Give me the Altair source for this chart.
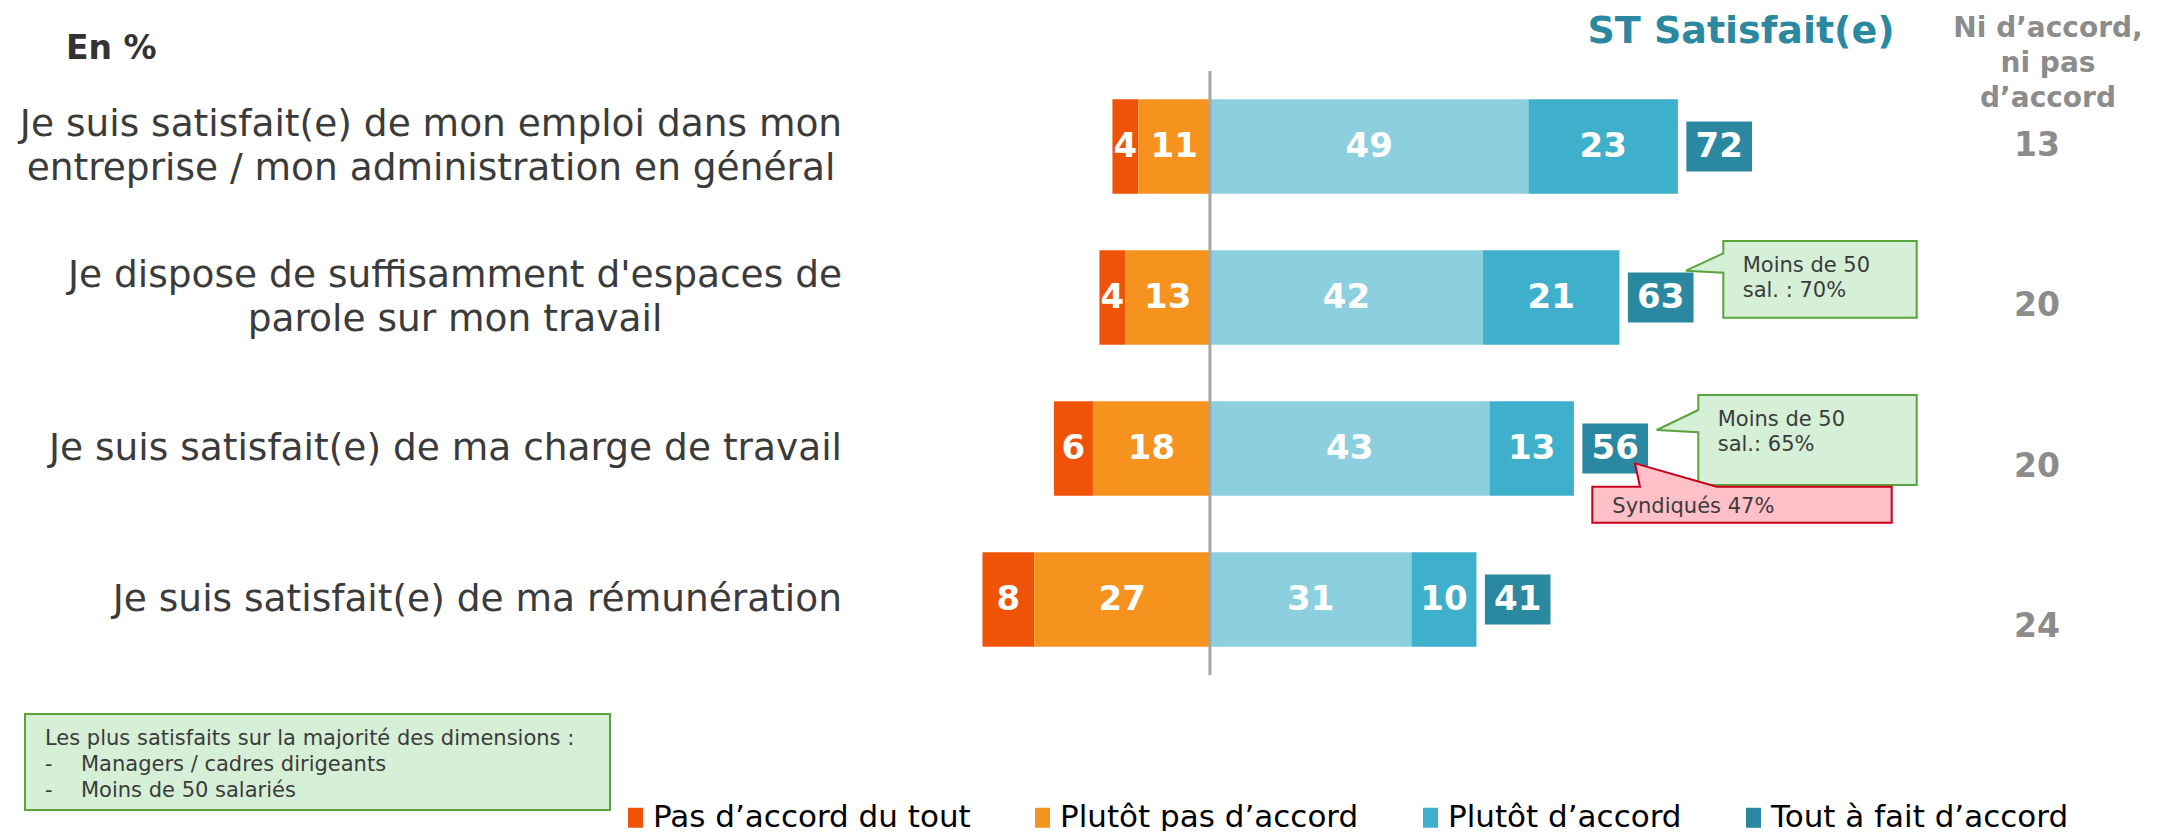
import altair as alt
import pandas as pd

# ---------------- data ----------------
questions = [
    "Je suis satisfait(e) de mon emploi dans mon\nentreprise / mon administration en général",
    "Je dispose de suffisamment d'espaces de\nparole sur mon travail",
    "Je suis satisfait(e) de ma charge de travail",
    "Je suis satisfait(e) de ma rémunération",
]
categories = ["Pas d’accord du tout", "Plutôt pas d’accord", "Plutôt d’accord", "Tout à fait d’accord"]
pas_du_tout = [4, 4, 6, 8]
plutot_pas = [11, 13, 18, 27]
plutot = [49, 42, 43, 31]
tout_a_fait = [23, 21, 13, 10]
st_satisfait = [72, 63, 56, 41]
ni_ni = [13, 20, 20, 24]

colors = ["#EF5307", "#F6921E", "#8CD0E0", "#3FB0CC"]
legend_colors = ["#EF5307", "#F6921E", "#3FB0CC", "#2A89A0"]
C_ST = "#2A89A0"
C_GREY = "#8C8C8C"
C_TXT = "#3B3B3B"
FONT = "DejaVu Sans"

seg_rows = []
for i, q in enumerate(questions):
    a, b, c, d = pas_du_tout[i], plutot_pas[i], plutot[i], tout_a_fait[i]
    for cat, x0, x1, v in [
        (categories[0], -(a + b), -b, a),
        (categories[1], -b, 0, b),
        (categories[2], 0, c, c),
        (categories[3], c, c + d, d),
    ]:
        seg_rows.append({"question": q, "category": cat, "x0": x0, "x1": x1, "value": v})
seg = pd.DataFrame(seg_rows)
summary = pd.DataFrame({"question": questions, "idx": list(range(4)),
                        "st": st_satisfait, "ni": ni_ni})

xs = alt.Scale(domain=[-52.3, 145.4], nice=False, zero=False)
yb = alt.Scale(domain=questions, paddingInner=0.374, paddingOuter=0.188)
Y = alt.Y("question:N", scale=yb, axis=None)

bars = alt.Chart(seg).mark_bar().encode(
    x=alt.X("x0:Q", scale=xs, axis=None),
    x2="x1:Q",
    y=Y,
    color=alt.Color("category:N", scale=alt.Scale(domain=categories, range=colors), legend=None),
)

# legend (the reference legend uses its own swatch colours)
legend_layer = alt.Chart(seg).mark_bar(strokeWidth=0).encode(
    x=alt.X("x0:Q", scale=xs, axis=None),
    x2="x0:Q",
    y=Y,
    color=alt.Color(
        "category:N",
        scale=alt.Scale(domain=categories, range=legend_colors),
        legend=alt.Legend(
            title=None, orient="none", legendX=-250, legendY=731,
            direction="horizontal",
            symbolType="M-0.75,-1H0.75V1H-0.75Z", symbolSize=400,
            symbolStrokeWidth=0, symbolOpacity=1,
            labelFontSize=31, labelColor="black", labelFont=FONT,
            labelOffset=2, columnPadding=56, labelLimit=900, padding=0,
        ),
    ),
)

bar_labels = alt.Chart(seg).transform_calculate(
    mid="(datum.x0 + datum.x1) / 2"
).mark_text(fontWeight="bold", fontSize=34, color="white", baseline="middle", font=FONT).encode(
    x=alt.X("mid:Q", scale=xs, axis=None), y=Y, text="value:Q"
)

zero = alt.Chart(pd.DataFrame({"z": [0]})).mark_rule(color="#A6A6A6", strokeWidth=3).encode(
    x=alt.X("z:Q", scale=xs, axis=None)
)

st_box = alt.Chart(summary).transform_calculate(
    b0="datum.st + 1.3", b1="datum.st + 11.4"
).mark_bar(height=50, color=C_ST).encode(
    x=alt.X("b0:Q", scale=xs, axis=None), x2="b1:Q", y=Y
)
st_text = alt.Chart(summary).transform_calculate(
    c="datum.st + 6.35"
).mark_text(fontWeight="bold", fontSize=34, color="white", baseline="middle", font=FONT).encode(
    x=alt.X("c:Q", scale=xs, axis=None), y=Y, text="st:Q"
)

ni_text = alt.Chart(summary).mark_text(
    fontWeight="bold", fontSize=33, color=C_GREY, baseline="middle", font=FONT
).encode(
    x=alt.value(1167),
    y=alt.Y("question:N", scale=alt.Scale(type="point", domain=questions, range=[75, 556], padding=0), axis=None),
    text="ni:Q",
)


def free_text(txt, x, y, size, color, weight="normal", align="left", line_height=None):
    kw = dict(fontSize=size, color=color, fontWeight=weight, align=align,
              baseline="alphabetic", font=FONT, lineBreak="\n")
    if line_height:
        kw["lineHeight"] = line_height
    return alt.Chart(pd.DataFrame({"t": [txt]})).mark_text(**kw).encode(
        x=alt.value(x), y=alt.value(y), text="t:N"
    )


en_pct = free_text("En %", -804, -12, 33, "#333333", "bold")
st_head = free_text("ST Satisfait(e)", 871, -28, 38, C_ST, "bold", "center")
ni_head = free_text("Ni d’accord,\nni pas\nd’accord", 1178, -34, 28, C_GREY, "bold", "center", 35)

# question labels
lab_kw = dict(fontSize=37.5, color=C_TXT, baseline="middle", font=FONT, lineBreak="\n", lineHeight=44)
lab_single = alt.Chart(summary).transform_filter(
    alt.FieldOneOfPredicate(field="idx", oneOf=[2, 3])
).mark_text(align="right", **lab_kw).encode(x=alt.value(-28), y=Y, text="question:N")
lab_q1 = alt.Chart(summary).transform_filter("datum.idx == 0").mark_text(
    align="center", dy=-22, **lab_kw).encode(x=alt.value(-439), y=Y, text="question:N")
lab_q2 = alt.Chart(summary).transform_filter("datum.idx == 1").mark_text(
    align="center", dy=-22, **lab_kw).encode(x=alt.value(-415), y=Y, text="question:N")

# bottom-left note
note_box = alt.Chart(pd.DataFrame({"a": [0]})).mark_rect(
    fill="#D6EFD7", stroke="#5BA33B", strokeWidth=2
).encode(x=alt.value(-845), x2=alt.value(-260), y=alt.value(643), y2=alt.value(739))
note_head = free_text("Les plus satisfaits sur la majorité des dimensions :", -825, 674, 21, C_TXT)
note_dash = free_text("-\n-", -825, 700, 21, C_TXT, line_height=25.7)
note_items = free_text("Managers / cadres dirigeants\nMoins de 50 salariés", -789, 700, 21, C_TXT, line_height=25.7)


def callout(path, x, y, fill, stroke):
    return alt.Chart(pd.DataFrame({"a": [0]})).mark_point(
        shape=path, size=4, filled=True, fill=fill, stroke=stroke,
        strokeWidth=2, opacity=1, fillOpacity=1, strokeOpacity=1
    ).encode(x=alt.value(x), y=alt.value(y))


GREEN_FILL, GREEN_STROKE = "#D6EFD7", "#5BA33B"
RED_FILL, RED_STROKE = "#FFC0C8", "#C8001E"
call1 = callout("M0,0H193.4V76.7H0V31.7L-37.3,29.7L0,12.3Z", 853.3, 170, GREEN_FILL, GREEN_STROKE)
call1_t = free_text("Moins de 50\nsal. : 70%", 872.7, 200.7, 21, C_TXT, line_height=25.6)
call2 = callout("M0,0H218.4V90H0V37.3L-41.6,35L0,15Z", 828.3, 324, GREEN_FILL, GREEN_STROKE)
call2_t = free_text("Moins de 50\nsal.: 65%", 847.7, 354.7, 21, C_TXT, line_height=25)
call3 = callout("M0,0H47.7L42.7,-23.4L124.4,0H299.4V36H0Z", 722.3, 415.7, RED_FILL, RED_STROKE)
call3_t = free_text("Syndiqués 47%", 742.3, 442.3, 21, C_TXT)

chart = alt.layer(
    bars, legend_layer, bar_labels, zero, st_box, st_text, ni_text,
    en_pct, st_head, ni_head, lab_single, lab_q1, lab_q2,
    note_box, note_head, note_dash, note_items,
    call1, call1_t, call2, call2_t, call3, call3_t,
).resolve_scale(y="independent", color="independent").properties(
    width=1285, height=604,
    autosize=alt.AutoSizeParams(type="none"),
    padding={"left": 862, "top": 63, "right": 0, "bottom": 156},
).configure(font=FONT).configure_view(stroke=None)

chart.save("out.html", embed_options={"renderer": "svg", "actions": False})
